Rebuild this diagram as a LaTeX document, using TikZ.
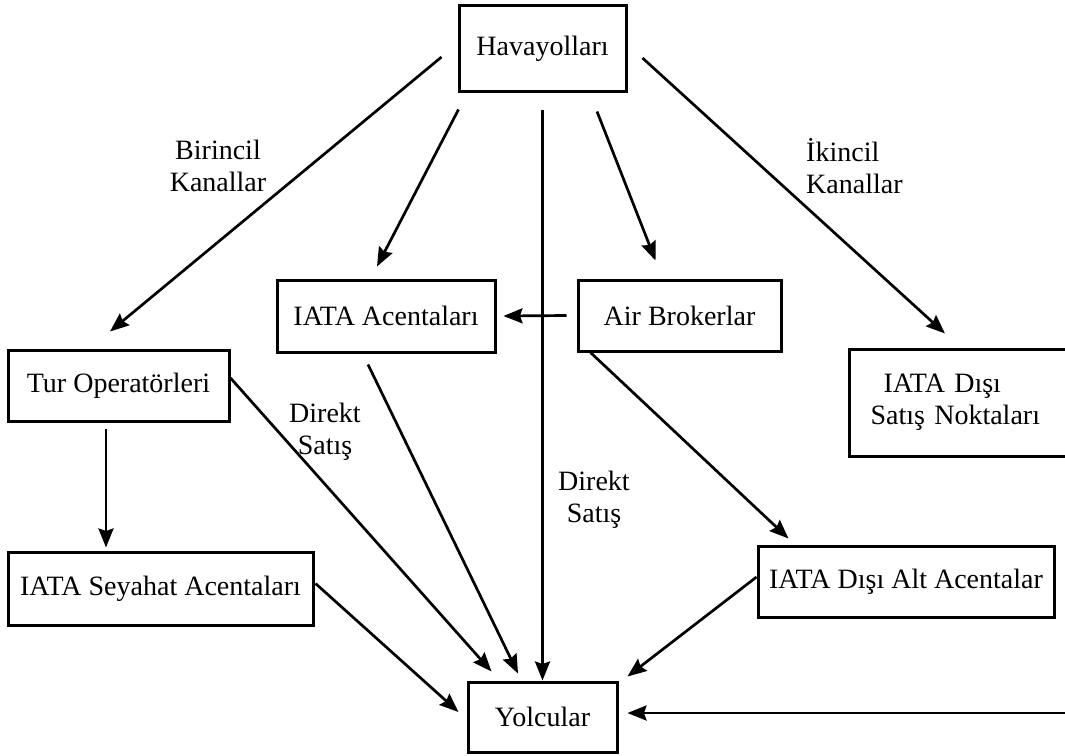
\documentclass[tikz,border=0pt]{standalone}
\usepackage{fontspec}
\setmainfont{Liberation Serif}
\usetikzlibrary{arrows.meta,calc}
\begin{document}
\begin{tikzpicture}[x=1pt,y=-1pt,
  box/.style={draw, line width=3pt, rectangle, inner sep=0pt, font=\fontsize{28}{32}\selectfont},
  conn/.style={line width=2.7pt, -{Stealth[length=19pt,width=15pt,inset=2.5pt]}},
  lbl/.style={font=\fontsize{28}{32}\selectfont, align=center, inner sep=0pt}]
\useasboundingbox (0,0) rectangle (1065,755);
\fill[white] (0,0) rectangle (1065,755);

\node[box, minimum width=167pt, minimum height=86pt] (hav) at (542.5,48.5) {Havayolları};
\node[box, minimum width=218pt, minimum height=72pt] (iata) at (386,316) {IATA Acentaları};
\node[box, minimum width=203pt, minimum height=71pt] (air) at (679.5,315.5) {Air Brokerlar};
\node[box, minimum width=221pt, minimum height=71pt] (tur) at (118.5,385.5) {Tur Operatörleri};
\node[box, minimum width=305pt, minimum height=73pt] (sey) at (160.5,588.5) {IATA Seyahat Acentaları};
\node[box, anchor=west, text width=210pt, align=left, inner xsep=21pt, minimum height=107pt] (nd) at (848,402.5) {\hspace*{13pt}IATA Dışı\\Satış Noktaları};
\node[box, minimum width=296pt, minimum height=71pt] (alt) at (906,581.5) {IATA Dışı Alt Acentalar};
\node[box, minimum width=149pt, minimum height=70pt] (yol) at (542.5,717) {Yolcular};
\coordinate (rin) at (1075,713);
\coordinate (tsd) at ($(tur.south)+(-12.5,6)$);

\node[lbl] (bk) at (218,166) {Birincil\\Kanallar};
\node[lbl, align=left, anchor=west] (ik) at (806,166) {İkincil\\Kanallar};
\node[lbl] (ds1) at (325,432) {Direkt\\Satış};
\node[lbl] (ds2) at (594,500) {Direkt\\Satış};

\draw[conn] ($(hav.west)+(-16,8.5)$) -- ($(tur.north)+(-8.5,-17)$);
\draw[conn] ($(hav.south west)+(1,16.5)$) -- ($(iata.north)+(-9,-12)$);
\draw[conn] ($(hav.south)+(0,16.5)$) -- (yol.north);
\draw[conn] ($(hav.south)+(54.5,18.5)$) -- ($(air.north)+(-24,-18)$);
\draw[conn] ($(hav.east)+(15,9.5)$) -- ($(nd.north west)+(97,-14)$);
\draw[conn] ($(air.west)+(-10,0)$) -- ($(iata.east)+(7,0)$);
\draw[conn] (tsd) -- ($(tsd |- sey.north)+(0,-3)$);
\draw[conn] ($(tur.east)+(0,-7.5)$) -- ($(yol.north west)+(25,-9)$);
\draw[conn] ($(iata.south)+(-18,11)$) -- ($(yol.north)+(-24.5,-7)$);
\draw[conn] ($(sey.east)+(1,-5)$) -- ($(yol.west)+(-8,-5)$);
\draw[conn] ($(air.south west)+(14,0)$) -- ($(alt.north west)+(32,-6)$);
\draw[conn] ($(alt.west)+(0,-4.5)$) -- ($(yol.north east)+(9,-4)$);
\draw[conn] (rin) -- ($(yol.east |- rin)+(9,0)$);
\end{tikzpicture}
\end{document}
